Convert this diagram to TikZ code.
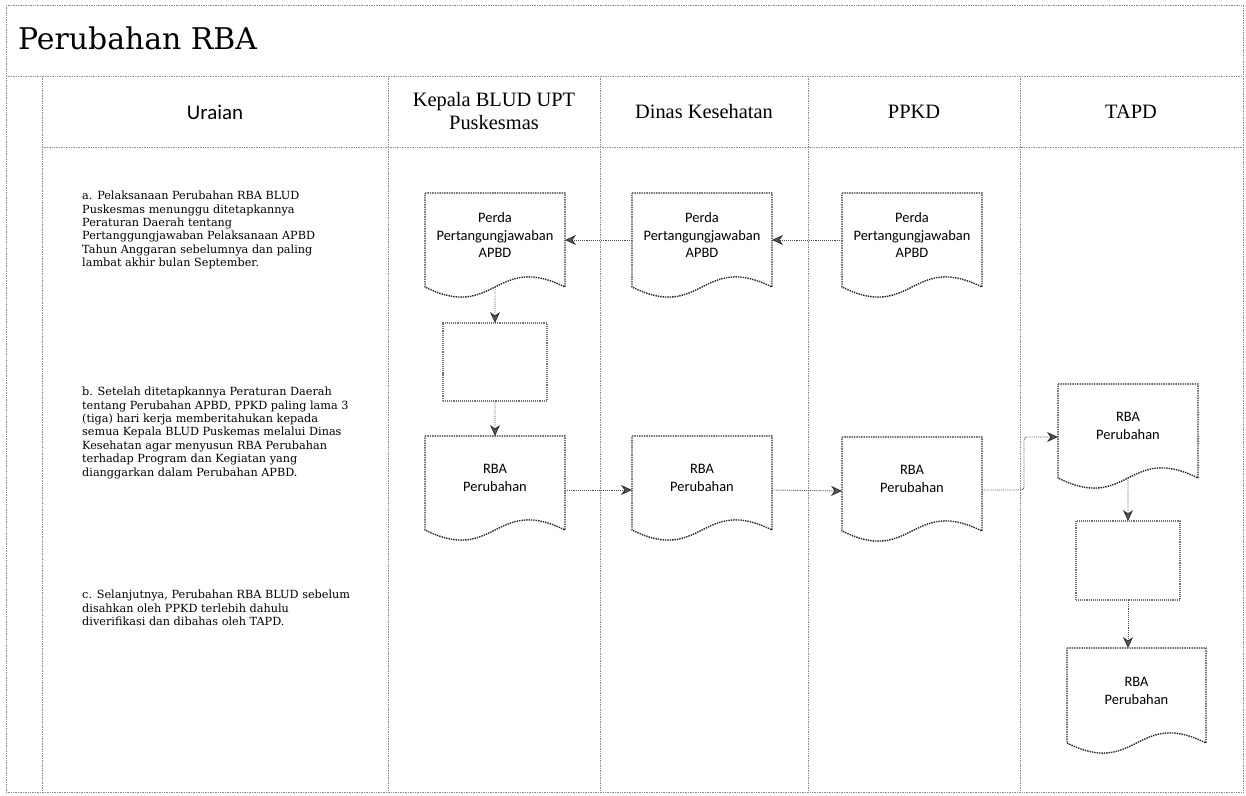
\documentclass[tikz,border=0pt]{standalone}
\usepackage{fontspec}
\setmainfont{Liberation Serif}
\newfontfamily\bookfont{DejaVu Serif}
\newfontfamily\calfont{Carlito}
\usetikzlibrary{arrows.meta,calc}

% document symbol: a box with a wavy lower edge
\newcommand\docshape[6]{% name, left, top, width, height, text
  \node[docbox, minimum width=#4bp, minimum height=#5bp, anchor=north west] (#1) at (#2,#3) {};
  \draw[docline] (#1.north west) -- (#1.north east) -- (#1.south east)
    .. controls ($(#1.south)+(0,-35)$) and ($(#1.south)+(0,35)$) .. (#1.south west) -- cycle;
  \node[doctext] (#1-t) at ([yshift=5bp]#1.center) {#6};
}

\begin{document}
\begin{tikzpicture}[x=1bp,y=-1bp,
  grid/.style={draw=black!45, line width=0.7bp, densely dotted},
  docbox/.style={draw=none, inner sep=0pt, outer sep=0pt},
  docline/.style={draw=black!85, line width=1.4bp, densely dotted},
  procbox/.style={draw=black!55, line width=1.1bp, densely dotted, inner sep=0pt, outer sep=0pt},
  flow/.style={draw=black!70, line width=0.9bp, densely dotted,
    -{Stealth[length=11bp, width=10bp, inset=3.5bp, fill=black!65, color=black!80]}},
  hdr/.style={font=\fontsize{20.5}{23}\selectfont, align=center, inner sep=0pt},
  doctext/.style={font=\calfont\fontsize{14.5}{18}\selectfont, align=center, inner sep=0pt},
  note/.style={font=\bookfont\fontsize{11.3}{13.4}\selectfont, align=left, anchor=base west, inner sep=0pt}
]
\useasboundingbox (0,0) rectangle (1246,796);

% frame and swimlane grid
\draw[grid] (6,5) rectangle (1243,792);
\draw[grid] (6,76) -- (1243,76);
\draw[grid] (42,147) -- (1243,147);
\foreach \x in {42,388,600,808,1020} \draw[grid] (\x,76) -- (\x,792);

% title and lane headers
\node[anchor=base west, inner sep=0pt, font=\bookfont\fontsize{30}{34}\selectfont] (title) at (18,50) {Perubahan RBA};
\node[font=\calfont\fontsize{21}{24}\selectfont, inner sep=0pt] (h-uraian) at (215,112) {Uraian};
\node[hdr] (h-kepala) at (494,111) {Kepala BLUD UPT\\Puskesmas};
\node[hdr] (h-dinas) at (704,112) {Dinas Kesehatan};
\node[hdr] (h-ppkd) at (914,112) {PPKD};
\node[hdr] (h-tapd) at (1131,112) {TAPD};

% description column (anchored at the baseline of the last line)
\node[note] (n-a) at (82,266.5) {a. Pelaksanaan Perubahan RBA BLUD\\
Puskesmas menunggu ditetapkannya\\
Peraturan Daerah tentang\\
Pertanggungjawaban Pelaksanaan APBD\\
Tahun Anggaran sebelumnya dan paling\\
lambat akhir bulan September.};
\node[note] (n-b) at (82,476) {b. Setelah ditetapkannya Peraturan Daerah\\
tentang Perubahan APBD, PPKD paling lama 3\\
(tiga) hari kerja memberitahukan kepada\\
semua Kepala BLUD Puskemas melalui Dinas\\
Kesehatan agar menyusun RBA Perubahan\\
terhadap Program dan Kegiatan yang\\
dianggarkan dalam Perubahan APBD.};
\node[note] (n-c) at (82,625.5) {c. Selanjutnya, Perubahan RBA BLUD sebelum\\
disahkan oleh PPKD terlebih dahulu\\
diverifikasi dan dibahas oleh TAPD.};

% documents
\docshape{k1}{425}{193}{140}{94}{Perda\\Pertangungjawaban\\APBD}
\docshape{d1}{632}{193}{140}{94}{Perda\\Pertangungjawaban\\APBD}
\docshape{p1}{842}{193}{140}{94}{Perda\\Pertangungjawaban\\APBD}
\docshape{k2}{425}{436}{140}{94}{RBA\\Perubahan}
\docshape{d2}{632}{436}{140}{94}{RBA\\Perubahan}
\docshape{p2}{842}{437}{140}{94}{RBA\\Perubahan}
\docshape{t1}{1058}{384}{140}{94}{RBA\\Perubahan}
\docshape{t2}{1067}{648}{139}{95}{RBA\\Perubahan}

% process boxes
\node[procbox, minimum width=104bp, minimum height=78bp, anchor=north west] (kbox) at (443,323) {};
\node[procbox, minimum width=104bp, minimum height=79bp, anchor=north west] (tbox) at (1076,521) {};

% flows
\draw[flow] (p1.west) -- (d1.east);
\draw[flow] (d1.west) -- (k1.east);
\draw[flow] (k1.south) -- (kbox.north);
\draw[flow] (kbox.south) -- (k2.north);
\draw[flow] ([yshift=-7bp]k2.east) -- ([yshift=-7bp]d2.west);
\draw[flow] ([yshift=-7bp]d2.east) -- ([yshift=-7bp]p2.west);
\coordinate (pa) at ([yshift=-6bp]p2.east);
\coordinate (tb) at ([yshift=-6bp]t1.west);
\coordinate (bend) at (1024,437);
\draw[flow, rounded corners=3bp] (pa) -- (pa -| bend) -- (bend |- tb) -- (tb);
\draw[flow] (t1.south) -- (tbox.north);
\draw[flow] (tbox.south) -- (tbox.south |- t2.north);
\end{tikzpicture}
\end{document}
